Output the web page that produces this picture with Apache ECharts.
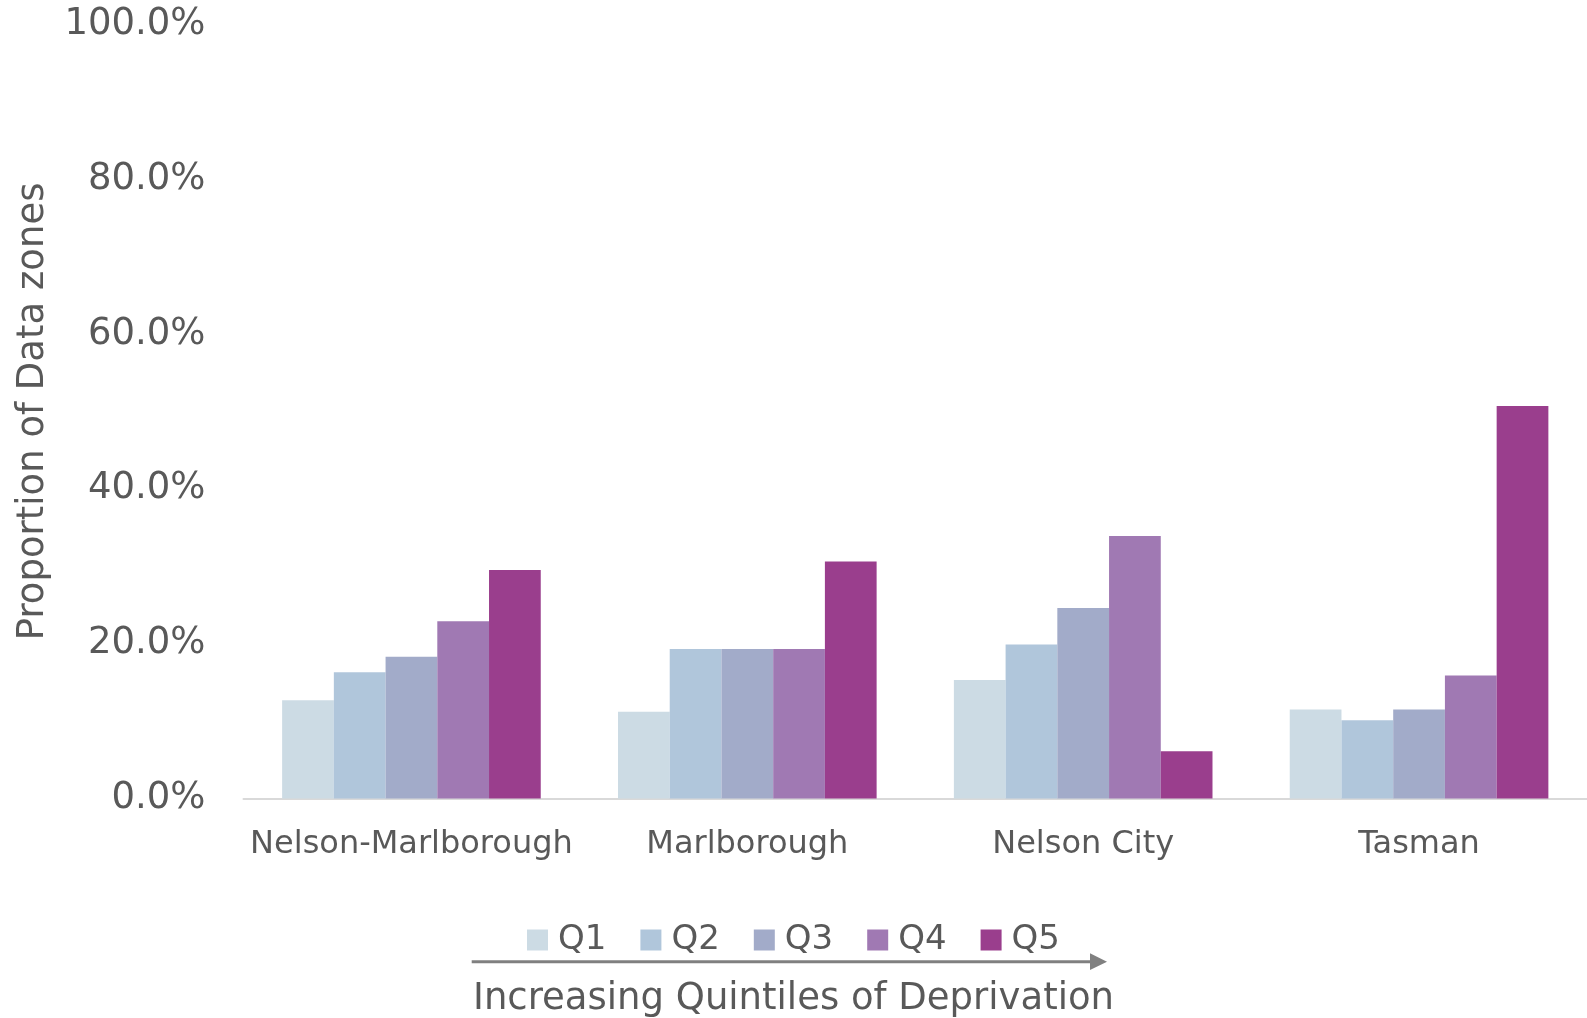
<!DOCTYPE html>
<html>
<head>
<meta charset="utf-8">
<title>Proportion of Data zones by deprivation quintile</title>
<script src="https://cdn.jsdelivr.net/npm/echarts@6/dist/echarts.min.js"></script>
<style>
  html, body { margin: 0; padding: 0; background: #ffffff; }
  #chart { width: 1587px; height: 1018px; }
</style>
</head>
<body>
<div id="chart"></div>
<script>
// Regions along the x axis
const regions = ['Nelson-Marlborough', 'Marlborough', 'Nelson City', 'Tasman'];

// Share of data zones (%) in each deprivation quintile, per region
const q1 = [12.7, 11.2, 15.3, 11.5];
const q2 = [16.3, 19.3, 19.9, 10.1];
const q3 = [18.3, 19.3, 24.6, 11.5];
const q4 = [22.9, 19.3, 33.9, 15.9];
const q5 = [29.5, 30.6, 6.1, 50.7];

const quintileNames = ['Q1', 'Q2', 'Q3', 'Q4', 'Q5'];
const quintileColors = ['#CCDBE4', '#B0C6DB', '#A2ABC9', '#A079B3', '#9A3E8D'];

// Value axis ticks
const yMin = 0, yMax = 100, yStep = 20;

const textColor = '#595959';
const fontFamily = '"DejaVu Sans", Verdana, sans-serif';

const quintileData = [q1, q2, q3, q4, q5];

const series = quintileNames.map((name, i) => ({
  name: name,
  type: 'bar',
  data: quintileData[i],
  barGap: '0%',
  barCategoryGap: '23%',
  itemStyle: { color: quintileColors[i] },
  emphasis: { disabled: true }
}));

const chart = echarts.init(document.getElementById('chart'), null, { renderer: 'canvas' });

chart.setOption({
  animation: false,
  backgroundColor: '#ffffff',
  textStyle: { fontFamily: fontFamily, color: textColor },
  grid: { left: 243.5, right: 0, top: 24.3, bottom: 219.5, containLabel: false },
  legend: {
    data: quintileNames,
    left: 'center',
    top: 918,
    itemWidth: 21,
    itemHeight: 21,
    itemGap: 34,
    icon: 'rect',
    textStyle: { fontSize: 34, color: textColor, fontFamily: fontFamily, padding: [0, 0, 0, 5], lineHeight: 34 }
  },
  xAxis: {
    type: 'category',
    data: regions,
    axisLine: { show: true, lineStyle: { color: '#D9D9D9', width: 2 } },
    axisTick: { show: false },
    axisLabel: { fontSize: 32, color: textColor, margin: 30, fontFamily: fontFamily, interval: 0 }
  },
  yAxis: {
    type: 'value',
    min: yMin,
    max: yMax,
    interval: yStep,
    splitLine: { show: false },
    axisLine: { show: false },
    axisTick: { show: false },
    axisLabel: {
      fontSize: 37,
      color: textColor,
      margin: 38,
      padding: [5, 0, 0, 0],
      fontFamily: fontFamily,
      formatter: v => v.toFixed(1) + '%'
    },
    name: 'Proportion of Data zones',
    nameLocation: 'middle',
    nameRotate: 90,
    nameGap: 192,
    nameTextStyle: { fontSize: 37, color: textColor, fontFamily: fontFamily }
  },
  graphic: [
    {
      type: 'line',
      shape: { x1: 471.7, y1: 961.7, x2: 1092, y2: 961.7 },
      style: { stroke: '#808080', lineWidth: 3 },
      silent: true
    },
    {
      type: 'polygon',
      shape: { points: [[1090, 953.3], [1107, 961.7], [1090, 970.1]] },
      style: { fill: '#808080' },
      silent: true
    },
    {
      type: 'text',
      x: 793.5,
      y: 999,
      style: {
        text: 'Increasing Quintiles of Deprivation',
        fontSize: 37,
        fontFamily: fontFamily,
        fill: textColor,
        align: 'center',
        verticalAlign: 'middle'
      },
      silent: true
    }
  ],
  series: series
});
</script>
</body>
</html>
